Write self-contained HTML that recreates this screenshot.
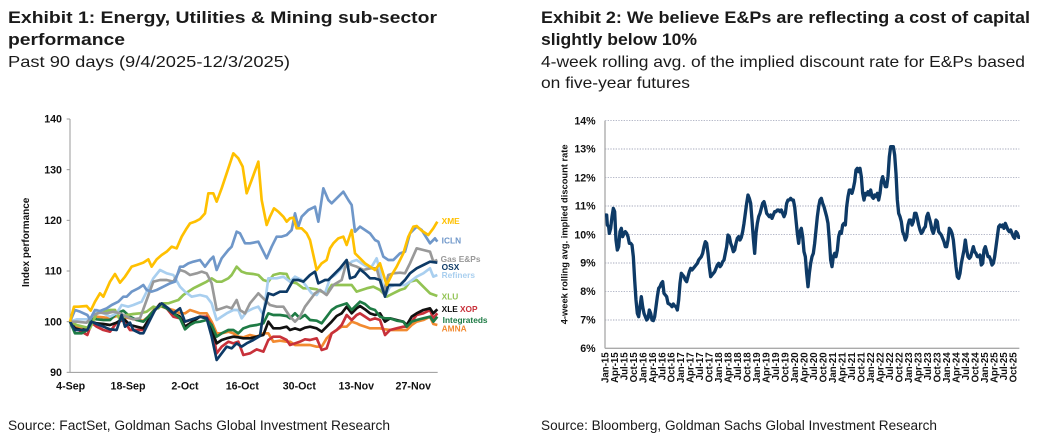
<!DOCTYPE html>
<html><head><meta charset="utf-8"><style>
html,body{margin:0;padding:0;background:#fff;width:1043px;height:443px;overflow:hidden}
svg{display:block;font-family:"Liberation Sans",sans-serif}
</style></head><body>
<svg width="1043" height="443" viewBox="0 0 1043 443">
<g fill="#1a1a1a">
<text x="8" y="23" font-size="17" font-weight="bold" textLength="429" lengthAdjust="spacingAndGlyphs">Exhibit 1: Energy, Utilities &amp; Mining sub-sector</text>
<text x="8" y="45" font-size="17" font-weight="bold" textLength="117" lengthAdjust="spacingAndGlyphs">performance</text>
<text x="8" y="67" font-size="16" textLength="282" lengthAdjust="spacingAndGlyphs">Past 90 days (9/4/2025-12/3/2025)</text>
<text x="541" y="23" font-size="17" font-weight="bold" textLength="489" lengthAdjust="spacingAndGlyphs">Exhibit 2: We believe E&amp;Ps are reflecting a cost of capital</text>
<text x="541" y="45" font-size="17" font-weight="bold" textLength="156" lengthAdjust="spacingAndGlyphs">slightly below 10%</text>
<text x="541" y="67" font-size="16" textLength="484" lengthAdjust="spacingAndGlyphs">4-week rolling avg. of the implied discount rate for E&amp;Ps based</text>
<text x="541" y="88" font-size="16" textLength="149" lengthAdjust="spacingAndGlyphs">on five-year futures</text>
<text x="8" y="430" font-size="13.5" textLength="382" lengthAdjust="spacingAndGlyphs">Source: FactSet, Goldman Sachs Global Investment Research</text>
<text x="541" y="430" font-size="13.5" textLength="396" lengthAdjust="spacingAndGlyphs">Source: Bloomberg, Goldman Sachs Global Investment Research</text>
</g>

<!-- Chart 1 -->
<g transform="translate(0,100) scale(0.3333333)">
<line x1="210" y1="57" x2="210" y2="817" stroke="#999" stroke-width="3"/>
<line x1="210" y1="817" x2="1313" y2="817" stroke="#999" stroke-width="3"/>
<g stroke="#999" stroke-width="3">
<line x1="200" y1="57" x2="210" y2="57"/><line x1="200" y1="209" x2="210" y2="209"/><line x1="200" y1="361" x2="210" y2="361"/><line x1="200" y1="513" x2="210" y2="513"/><line x1="200" y1="665" x2="210" y2="665"/><line x1="200" y1="817" x2="210" y2="817"/>
</g>
<g font-size="32" font-weight="bold" fill="#111" text-anchor="end">
<text x="186" y="68">140</text><text x="186" y="220">130</text><text x="186" y="372">120</text><text x="186" y="524">110</text><text x="186" y="676">100</text><text x="186" y="828">90</text>
</g>
<g font-size="32" font-weight="bold" fill="#111" text-anchor="middle">
<text x="212" y="868">4-Sep</text><text x="384" y="868">18-Sep</text><text x="555" y="868">2-Oct</text><text x="727" y="868">16-Oct</text><text x="898" y="868">30-Oct</text><text x="1069" y="868">13-Nov</text><text x="1240" y="868">27-Nov</text>
</g>
<text transform="translate(87,427) rotate(-90)" font-size="30" font-weight="bold" fill="#111" text-anchor="middle">Index performance</text>
<g fill="none" stroke-width="8" stroke-linejoin="round">
<polyline stroke="#F28A30" points="210,665 225,680 245,685 262,690 275,660 290,650 310,652 330,655 350,648 370,650 390,655 410,660 430,662 445,650 465,625 480,618 500,625 520,630 540,640 555,640 570,630 585,635 600,640 620,640 635,665 650,700 665,700 685,695 700,700 715,710 730,712 750,705 770,710 790,700 805,700 820,725 840,722 860,725 870,725 885,735 900,735 915,735 930,735 950,740 965,740 980,715 995,700 1010,690 1025,680 1040,680 1055,665 1070,670 1080,675 1095,680 1110,685 1125,685 1140,685 1155,688 1170,690 1190,690 1210,690 1220,690 1235,675 1250,665 1270,660 1290,650 1300,672 1312,675"/>
<polyline stroke="#C8313A" points="210,665 225,685 245,695 262,705 275,668 290,680 310,690 330,695 350,668 370,660 390,690 410,690 430,690 445,665 465,630 480,612 500,625 520,650 540,655 555,665 570,660 585,655 600,650 620,650 635,675 650,760 665,740 685,725 700,730 715,725 730,765 750,760 770,748 790,755 805,720 820,710 840,710 860,720 870,735 885,730 900,725 915,718 930,720 950,715 965,750 980,745 995,700 1010,690 1025,675 1040,645 1055,660 1070,645 1080,640 1095,650 1110,660 1125,655 1140,660 1155,705 1170,690 1190,685 1210,680 1220,680 1235,665 1250,645 1270,640 1290,630 1300,655 1312,640"/>
<polyline stroke="#111" points="210,665 225,685 245,690 262,685 275,665 290,670 310,672 330,675 350,668 370,655 390,675 410,680 430,685 445,660 465,630 480,612 500,625 520,640 540,650 555,680 570,670 585,660 600,650 620,655 635,690 650,730 665,720 680,715 700,710 715,712 730,715 750,715 770,710 790,705 805,665 820,685 840,685 860,680 870,690 885,685 900,690 915,683 930,680 950,685 965,695 980,680 995,665 1010,648 1025,640 1040,620 1055,640 1070,625 1080,618 1095,628 1110,640 1125,645 1140,640 1155,665 1170,655 1190,660 1210,665 1220,675 1235,650 1250,640 1270,630 1290,625 1300,640 1312,628"/>
<polyline stroke="#1E7B45" points="210,665 225,700 245,700 262,690 275,655 290,658 310,660 330,660 350,640 370,632 390,650 410,660 430,665 445,650 465,628 480,615 500,625 520,640 540,655 555,688 570,675 585,667 600,665 620,660 635,675 650,710 665,700 685,690 700,690 715,700 730,685 750,678 770,675 790,670 805,640 820,645 840,645 860,648 870,655 885,640 900,655 915,645 930,660 950,662 965,670 980,650 995,630 1010,620 1025,615 1040,610 1055,630 1070,615 1080,605 1095,612 1110,625 1125,630 1140,650 1155,655 1170,655 1190,662 1210,665 1220,680 1235,665 1250,660 1270,655 1290,650 1300,665 1312,650"/>
<polyline stroke="#92C353" points="210,665 230,675 250,680 270,685 290,640 310,635 330,630 345,630 360,660 380,645 400,642 420,640 440,635 460,620 475,625 490,610 505,610 520,605 535,600 550,585 565,575 580,565 600,555 620,545 635,535 650,545 665,545 685,535 695,525 710,500 725,515 740,520 760,522 775,525 790,540 805,545 820,525 840,520 860,522 870,545 890,550 910,565 930,565 950,568 965,575 980,580 995,555 1020,555 1040,555 1055,555 1070,575 1085,570 1100,565 1120,560 1140,570 1160,590 1180,580 1200,570 1215,565 1230,545 1250,540 1270,560 1290,580 1312,588"/>
<polyline stroke="#A9CFEF" points="210,665 230,658 250,658 270,658 290,630 310,640 330,650 350,640 365,615 385,620 400,615 425,605 440,575 460,535 480,510 500,520 520,525 540,560 555,575 575,590 600,585 620,590 635,610 650,660 665,650 680,640 700,630 715,630 725,655 740,635 760,625 775,620 790,645 805,535 830,535 850,530 870,545 885,530 905,540 920,560 935,580 950,585 960,570 975,580 990,535 1005,525 1030,500 1045,500 1055,485 1070,480 1085,490 1100,500 1115,500 1130,475 1140,515 1155,590 1170,560 1185,555 1200,555 1215,555 1230,545 1250,530 1270,520 1290,505 1300,530 1312,525"/>
<polyline stroke="#999" points="210,665 230,665 260,668 280,645 300,638 320,640 340,635 360,640 380,650 400,658 420,655 440,600 460,545 480,540 500,540 520,545 540,510 555,515 570,525 590,520 605,515 620,520 635,550 650,630 665,625 680,620 695,625 710,600 720,630 735,640 750,610 775,580 790,595 810,615 830,620 850,620 870,650 885,665 900,650 915,620 930,600 945,580 960,570 980,585 1000,555 1025,540 1040,485 1055,495 1070,500 1090,510 1110,505 1130,505 1150,580 1165,525 1180,520 1200,518 1215,520 1230,490 1250,445 1270,450 1290,455 1300,485 1312,480"/>
<polyline stroke="#0D3A66" points="210,665 225,690 245,690 262,690 275,665 290,672 310,680 330,688 350,690 365,645 375,680 390,668 400,690 420,700 430,700 445,670 465,630 485,610 505,625 520,640 540,625 555,665 570,660 585,655 600,650 620,655 635,710 650,780 665,760 680,740 695,745 710,730 725,740 740,730 760,720 780,708 790,640 805,580 820,585 840,575 860,575 880,540 895,540 910,545 930,525 945,515 955,550 965,545 975,540 985,540 1000,525 1020,505 1040,480 1050,535 1065,530 1080,508 1095,520 1110,535 1125,535 1140,540 1155,590 1165,555 1185,555 1200,555 1215,540 1230,520 1250,505 1270,495 1290,485 1312,488"/>
<polyline stroke="#6F97C9" points="210,665 225,630 240,635 262,645 270,658 285,630 300,633 320,625 335,615 355,605 370,590 380,590 395,575 415,565 430,555 440,570 455,575 470,570 490,560 510,550 525,545 540,500 550,500 565,490 580,485 600,480 615,500 630,480 640,470 650,510 665,475 685,450 695,440 710,395 720,400 735,430 750,430 775,425 785,445 800,475 815,440 830,410 845,410 860,405 875,390 885,340 895,380 905,350 925,330 945,320 955,365 970,265 985,300 995,310 1010,295 1030,275 1045,300 1055,315 1065,395 1080,380 1095,390 1110,400 1125,420 1135,425 1150,470 1165,480 1180,480 1200,460 1215,455 1230,400 1250,380 1265,390 1290,430 1305,415 1312,425"/>
<polyline stroke="#FFC000" points="210,665 222,620 235,620 260,618 272,632 285,605 300,580 310,590 330,545 345,522 360,548 375,530 395,500 410,495 430,488 445,478 455,500 470,478 485,465 500,455 515,440 530,445 545,410 560,385 570,370 585,365 600,357 615,340 625,280 640,280 650,305 665,265 685,205 700,160 715,175 728,200 740,280 755,240 775,185 785,300 800,375 810,350 822,325 835,335 850,350 860,365 870,355 880,353 890,385 905,385 920,400 930,420 950,510 965,490 980,480 990,445 1000,430 1015,415 1030,410 1040,435 1055,390 1065,460 1080,475 1095,490 1110,500 1125,510 1140,490 1160,555 1175,525 1190,500 1210,460 1225,410 1240,380 1250,378 1265,392 1285,405 1300,385 1312,365"/>
</g>
<g font-size="25" font-weight="bold">
<text x="1325" y="372" fill="#FFC000">XME</text>
<text x="1325" y="431" fill="#6F97C9">ICLN</text>
<text x="1322" y="486" fill="#999">Gas E&amp;Ps</text>
<text x="1325" y="510" fill="#0D3A66">OSX</text>
<text x="1325" y="534" fill="#A9CFEF">Refiners</text>
<text x="1325" y="599" fill="#92C353">XLU</text>
<text x="1325" y="636" fill="#111">XLE</text>
<text x="1380" y="636" fill="#C8313A">XOP</text>
<text x="1328" y="669" fill="#1E7B45">Integrateds</text>
<text x="1325" y="695" fill="#F28A30">AMNA</text>
</g>
</g>

<!-- Chart 2 -->
<g transform="translate(530,100) scale(0.3333333)">
<g stroke="#8a8fa8" stroke-width="2" stroke-dasharray="4,4">
<line x1="225" y1="62" x2="1468" y2="62"/><line x1="225" y1="147" x2="1468" y2="147"/><line x1="225" y1="233" x2="1468" y2="233"/><line x1="225" y1="318" x2="1468" y2="318"/><line x1="225" y1="404" x2="1468" y2="404"/><line x1="225" y1="489" x2="1468" y2="489"/><line x1="225" y1="574" x2="1468" y2="574"/><line x1="225" y1="660" x2="1468" y2="660"/>
</g>
<line x1="225" y1="62" x2="225" y2="745" stroke="#aaa" stroke-width="4"/>
<line x1="225" y1="745" x2="1468" y2="745" stroke="#aaa" stroke-width="4"/>
<g font-size="32" font-weight="bold" fill="#111" text-anchor="end">
<text x="197" y="73">14%</text><text x="197" y="158">13%</text><text x="197" y="244">12%</text><text x="197" y="329">11%</text><text x="197" y="415">10%</text><text x="197" y="500">9%</text><text x="197" y="585">8%</text><text x="197" y="671">7%</text><text x="197" y="756">6%</text>
</g>
<text transform="translate(112,403) rotate(-90)" font-size="28" font-weight="bold" fill="#111" text-anchor="middle">4-week rolling avg. implied discount rate</text>
<g id="xl" font-size="29" font-weight="bold" fill="#111" text-anchor="end"></g>
<polyline fill="none" stroke="#0E3A66" stroke-width="10" stroke-linejoin="round" points="225,345 230,345 232,375 236,380 238,400 242,385 246,350 250,325 254,335 258,420 262,450 266,440 270,395 274,385 278,410 282,400 286,395 290,400 294,410 298,430 302,430 306,435 310,470 314,540 318,600 322,640 326,650 330,620 334,590 338,620 342,640 346,650 350,660 354,655 358,630 362,640 366,660 370,662 374,650 378,620 382,590 386,565 390,560 394,550 398,545 402,580 406,585 410,590 414,610 418,612 422,615 426,620 430,612 434,618 438,620 442,630 446,600 450,550 454,520 458,525 462,530 466,540 470,545 474,530 478,515 482,505 486,510 490,505 494,500 498,495 502,490 506,480 510,475 514,470 518,460 522,440 526,425 530,430 534,460 538,500 542,530 546,525 550,520 554,515 558,505 562,495 566,490 570,500 574,495 578,485 582,480 586,460 590,440 594,405 598,410 602,430 606,440 610,455 614,450 618,430 622,415 626,410 630,420 634,412 638,395 642,370 646,340 650,310 654,285 658,295 662,310 666,360 670,415 674,460 678,400 682,370 686,350 690,340 694,325 698,310 702,305 706,320 710,340 714,345 718,350 722,345 726,355 730,345 734,335 738,335 742,330 746,330 750,335 754,330 758,340 762,350 766,340 770,310 774,300 778,300 782,295 786,300 790,300 794,320 798,360 802,400 806,430 810,395 814,385 818,410 822,455 826,470 830,520 834,560 838,520 842,490 846,470 850,460 854,430 858,390 862,350 866,320 870,300 874,295 878,310 882,320 886,335 890,350 894,370 898,420 902,480 906,500 910,470 914,460 918,470 922,450 926,410 930,395 934,400 938,375 942,370 946,375 950,320 954,290 958,270 962,270 966,280 970,265 974,245 978,210 982,205 986,215 990,205 994,230 998,280 1002,300 1006,280 1010,285 1014,275 1018,285 1022,270 1026,290 1030,295 1034,285 1038,290 1042,280 1046,300 1050,280 1054,245 1058,230 1062,245 1066,260 1070,260 1074,230 1078,170 1082,140 1086,140 1090,140 1094,165 1098,220 1102,300 1106,340 1110,350 1114,365 1118,395 1122,405 1126,420 1130,410 1134,375 1138,360 1142,360 1146,375 1150,365 1154,340 1158,340 1162,355 1166,375 1170,390 1174,400 1178,395 1182,385 1186,380 1190,350 1194,340 1198,355 1202,370 1206,390 1210,400 1214,385 1218,360 1222,365 1226,395 1230,400 1234,405 1238,415 1242,425 1246,440 1250,440 1254,420 1258,385 1262,390 1266,400 1270,420 1274,460 1278,500 1282,530 1286,535 1290,520 1294,490 1298,470 1302,450 1306,420 1310,450 1314,470 1318,475 1322,470 1326,455 1330,440 1334,455 1338,460 1342,470 1346,470 1350,465 1354,495 1358,490 1362,450 1366,440 1370,455 1374,470 1378,470 1382,480 1386,495 1390,490 1394,470 1398,440 1402,410 1406,380 1410,375 1414,380 1418,375 1422,385 1426,370 1430,380 1434,390 1438,395 1442,390 1446,400 1450,410 1454,415 1458,395 1462,400 1466,412 1470,412"/>
</g>
</svg>
<script>
(function(){
var g=document.getElementById('xl'),m=['Jan','Apr','Jul','Oct'],s='';
for(var i=0;i<44;i++){var yr=15+Math.floor(i/4);var x=225+i*28.46+10;
s+='<text transform="translate('+x.toFixed(1)+',757) rotate(-90)">'+m[i%4]+'-'+yr+'</text>';}
g.innerHTML=s;})();
</script>
</body></html>
